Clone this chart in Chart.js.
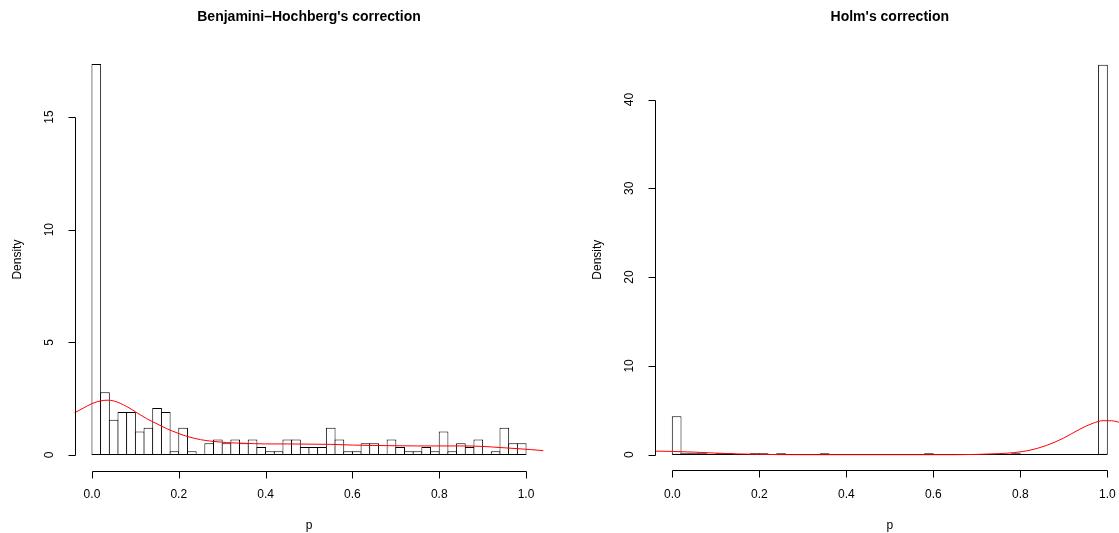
<!DOCTYPE html>
<html>
<head>
<meta charset="utf-8">
<script src="https://cdn.jsdelivr.net/npm/chart.js@4.4.1/dist/chart.umd.min.js"></script>
<style>
  html, body { margin: 0; padding: 0; background: #fff; overflow: hidden; }
  .panel { position: absolute; top: 0; height: 533px; }
</style>
</head>
<body>
<div class="panel" style="left:0;width:560px"><canvas id="bh"></canvas></div>
<div class="panel" style="left:560px;width:570px"><canvas id="holm"></canvas></div>
<script>
// histogram bin centres (width 0.02 on [0, 1])
const binMids = [
  0.01, 0.03, 0.05, 0.07, 0.09, 0.11, 0.13, 0.15, 0.17, 0.19,
  0.21, 0.23, 0.25, 0.27, 0.29, 0.31, 0.33, 0.35, 0.37, 0.39,
  0.41, 0.43, 0.45, 0.47, 0.49, 0.51, 0.53, 0.55, 0.57, 0.59,
  0.61, 0.63, 0.65, 0.67, 0.69, 0.71, 0.73, 0.75, 0.77, 0.79,
  0.81, 0.83, 0.85, 0.87, 0.89, 0.91, 0.93, 0.95, 0.97, 0.99
];

const bhDensity = [
  17.35, 2.78, 1.56, 1.91, 1.91, 1.04, 1.21, 2.08, 1.91, 0.17,
  1.21, 0.17, 0, 0.52, 0.69, 0.52, 0.69, 0.52, 0.69, 0.35,
  0.17, 0.17, 0.69, 0.69, 0.35, 0.35, 0.35, 1.21, 0.69, 0.17,
  0.17, 0.52, 0.52, 0, 0.69, 0.35, 0.17, 0.17, 0.35, 0.17,
  1.04, 0.17, 0.52, 0.35, 0.69, 0, 0.17, 1.21, 0.52, 0.52
];

const holmDensity = [
  4.34, 0.17, 0.17, 0.17, 0, 0.17, 0.17, 0, 0, 0.17,
  0.17, 0, 0.17, 0, 0, 0, 0, 0.17, 0, 0,
  0, 0, 0, 0, 0, 0, 0, 0, 0, 0.17,
  0, 0, 0, 0, 0, 0, 0, 0, 0, 0.17,
  0, 0, 0, 0, 0, 0, 0, 0, 0, 43.92
];

// kernel density curves (red lines)
const bhCurveX = [-0.041, -0.02, 0.0, 0.02, 0.035, 0.05, 0.08, 0.10, 0.126, 0.15, 0.172, 0.20, 0.22, 0.25, 0.28, 0.31, 0.35, 0.40, 0.45, 0.50, 0.55, 0.60, 0.65, 0.70, 0.75, 0.80, 0.85, 0.90, 0.94, 0.98, 1.01, 1.041];
const bhCurveY = [1.86, 2.08, 2.28, 2.40, 2.43, 2.40, 2.15, 1.92, 1.61, 1.38, 1.17, 0.95, 0.82, 0.68, 0.60, 0.55, 0.52, 0.49, 0.49, 0.48, 0.47, 0.44, 0.42, 0.41, 0.40, 0.40, 0.40, 0.38, 0.33, 0.28, 0.24, 0.19];

const holmCurveX = [-0.0375, 0.0, 0.05, 0.10, 0.15, 0.20, 0.25, 0.30, 0.65, 0.70, 0.75, 0.784, 0.82, 0.86, 0.90, 0.937, 0.968, 0.99, 1.01, 1.0375];
const holmCurveY = [0.40, 0.37, 0.29, 0.18, 0.09, 0.04, 0.01, 0.0, 0.0, 0.03, 0.12, 0.23, 0.48, 1.04, 1.88, 2.88, 3.56, 3.83, 3.82, 3.50];

const xTicks = [0, 0.2, 0.4, 0.6, 0.8, 1.0];
const xTickLabels = ['0.0', '0.2', '0.4', '0.6', '0.8', '1.0'];
const bhYTicks = [0, 5, 10, 15];
const holmYTicks = [0, 10, 20, 30, 40];

const FONT = '"Liberation Sans", Arial, Helvetica, sans-serif';

// R-style axes, titles and labels
const rAxes = {
  id: 'rAxes',
  beforeDatasetsDraw(chart) {
    const { ctx, scales: { x, y } } = chart;
    const y0 = Math.round(y.getPixelForValue(0)) - 0.5;
    ctx.save();
    ctx.strokeStyle = '#000';
    ctx.lineWidth = 1;
    ctx.beginPath();
    ctx.moveTo(x.getPixelForValue(0), y0);
    ctx.lineTo(x.getPixelForValue(1), y0);
    ctx.stroke();
    ctx.restore();
  },
  afterDraw(chart, args, opts) {
    const { ctx, chartArea: a, scales: { x, y } } = chart;
    ctx.save();
    ctx.strokeStyle = '#000';
    ctx.fillStyle = '#000';
    ctx.lineWidth = 1;

    // y axis
    const ax = Math.round(a.left) + 0.5;
    ctx.beginPath();
    ctx.moveTo(ax, Math.round(y.getPixelForValue(opts.yTicks[0])) + 0.5);
    ctx.lineTo(ax, Math.round(y.getPixelForValue(opts.yTicks[opts.yTicks.length - 1])) + 0.5);
    opts.yTicks.forEach((t) => {
      const py = Math.round(y.getPixelForValue(t)) + 0.5;
      ctx.moveTo(ax, py);
      ctx.lineTo(ax - 7, py);
    });
    ctx.stroke();
    ctx.font = '12px ' + FONT;
    ctx.textAlign = 'center';
    ctx.textBaseline = 'middle';
    opts.yTicks.forEach((t) => {
      ctx.save();
      ctx.translate(a.left - 25, y.getPixelForValue(t));
      ctx.rotate(-Math.PI / 2);
      ctx.fillText(String(t), 0, 0);
      ctx.restore();
    });

    // x axis
    const ay = Math.round(a.bottom) + 0.5;
    ctx.beginPath();
    ctx.moveTo(Math.round(x.getPixelForValue(xTicks[0])) + 0.5, ay);
    ctx.lineTo(Math.round(x.getPixelForValue(xTicks[xTicks.length - 1])) + 0.5, ay);
    xTicks.forEach((t) => {
      const px = Math.round(x.getPixelForValue(t)) + 0.5;
      ctx.moveTo(px, ay);
      ctx.lineTo(px, ay + 7);
    });
    ctx.stroke();
    xTicks.forEach((t, i) => {
      ctx.fillText(xTickLabels[i], x.getPixelForValue(t), a.bottom + 24);
    });

    // axis titles
    const cx = (a.left + a.right) / 2;
    ctx.fillText('p', cx, a.bottom + 55);
    ctx.save();
    ctx.translate(a.left - 57, (a.top + a.bottom) / 2);
    ctx.rotate(-Math.PI / 2);
    ctx.fillText('Density', 0, 0);
    ctx.restore();

    // main title
    ctx.font = 'bold 14px ' + FONT;
    ctx.fillText(opts.title, cx, 17);
    ctx.restore();
  }
};

function makeHist(id, density, curveX, curveY, yMin, yMax, padding, title, yTicks) {
  const ctx = document.getElementById(id).getContext('2d');
  return new Chart(ctx, {
    type: 'bar',
    data: {
      datasets: [
        {
          type: 'line',
          data: curveX.map((v, i) => ({ x: v, y: curveY[i] })),
          borderColor: '#ff0000',
          borderWidth: 1,
          pointRadius: 0,
          fill: false,
          tension: 0.4,
          cubicInterpolationMode: 'monotone',
          order: 0,
        },
        {
          type: 'bar',
          data: binMids.map((v, i) => ({ x: v, y: density[i] })),
          backgroundColor: '#ffffff',
          borderColor: '#000000',
          borderWidth: 1,
          borderSkipped: false,
          barPercentage: 1.115,
          categoryPercentage: 1,
          grouped: false,
          order: 1,
        },
      ],
    },
    options: {
      responsive: true,
      maintainAspectRatio: false,
      animation: false,
      devicePixelRatio: 1,
      layout: { padding },
      plugins: {
        legend: { display: false },
        tooltip: { enabled: false },
        rAxes: { title, yTicks },
      },
      scales: {
        x: { type: 'linear', min: -0.04, max: 1.04, offset: false, display: false },
        y: { type: 'linear', min: yMin, max: yMax, display: false },
      },
    },
    plugins: [rAxes],
  });
}

makeHist('bh', bhDensity, bhCurveX, bhCurveY, -0.694, 18.04,
  { left: 74.6, right: 16.6, top: 48.5, bottom: 62.4 },
  'Benjamini\u2013Hochberg\'s correction', bhYTicks);

makeHist('holm', holmDensity, holmCurveX, holmCurveY, -1.757, 45.68,
  { left: 94.9, right: 5.3, top: 49.1, bottom: 62.7 },
  'Holm\'s correction', holmYTicks);
</script>
</body>
</html>
